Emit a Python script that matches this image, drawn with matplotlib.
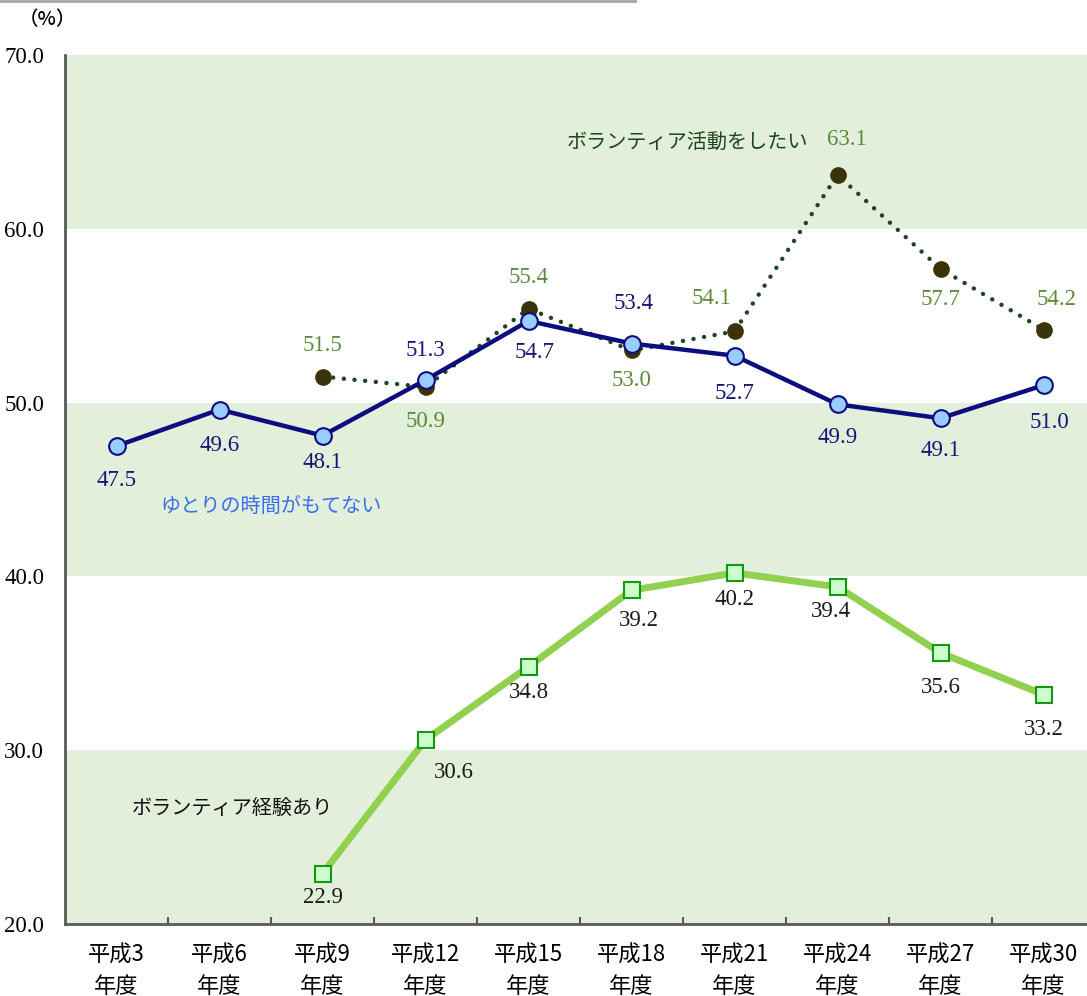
import matplotlib
matplotlib.use("Agg")
import matplotlib.pyplot as plt
from matplotlib.lines import Line2D

plt.rcParams['font.family'] = ['Noto Sans CJK JP', 'DejaVu Sans']

# survey years (Heisei)
years = ['平成3\n年度', '平成6\n年度', '平成9\n年度', '平成12\n年度', '平成15\n年度',
         '平成18\n年度', '平成21\n年度', '平成24\n年度', '平成27\n年度', '平成30\n年度']

# ゆとりの時間がもてない
no_time = [47.5, 49.6, 48.1, 51.3, 54.7, 53.4, 52.7, 49.9, 49.1, 51.0]
# ボランティア活動をしたい (from 平成9)
want_x = [2, 3, 4, 5, 6, 7, 8, 9]
want = [51.5, 50.9, 55.4, 53.0, 54.1, 63.1, 57.7, 54.2]
# ボランティア経験あり (from 平成9)
exp_x = [2, 3, 4, 5, 6, 7, 8, 9]
experience = [22.9, 30.6, 34.8, 39.2, 40.2, 39.4, 35.6, 33.2]

W, H = 1087, 996
fig = plt.figure(figsize=(W / 100, H / 100), dpi=100)
ax = fig.add_axes([65 / W, (H - 924) / H, 1030 / W, (924 - 55) / H])

ax.set_xlim(-0.5, 9.5)
ax.set_ylim(20, 70)

band = '#e2efda'
for lo in (20, 40, 60):
    ax.axhspan(lo, lo + 10, color=band, lw=0, zorder=0)

for s in ('top', 'right'):
    ax.spines[s].set_visible(False)
for s in ('left', 'bottom'):
    ax.spines[s].set_color('#595959')
    ax.spines[s].set_linewidth(2)

ax.set_yticks([20, 30, 40, 50, 60, 70])
ax.set_yticklabels(['%.1f' % v for v in [20, 30, 40, 50, 60, 70]],
                   family='Liberation Serif', fontsize=16.5)
ax.tick_params(axis='y', length=0, pad=15)

ax.set_xticks(range(10))
ax.set_xticklabels(years, fontsize=16, linespacing=1.45)
ax.set_xticks([i + 0.5 for i in range(9)], minor=True)
ax.tick_params(axis='x', which='major', length=0, pad=14)
ax.tick_params(axis='x', which='minor', direction='in', length=5, width=1.5, color='#595959')

# lines
ax.plot(want_x, want, ls=(0, (0.01, 2.4)), lw=3.2, color='#1e4620', dash_capstyle='round',
        marker='o', ms=11, mfc='#3b3308', mec='#3b3308', zorder=3)
ax.plot(range(10), no_time, color='#0d0d80', lw=3.2, marker='o', ms=12,
        mfc='#99ccff', mec='#0d0d80', mew=1.5, zorder=4)
ax.plot(exp_x, experience, color='#92d050', lw=5, marker='s', ms=12,
        mfc='#ccffcc', mec='#119911', mew=1.5, zorder=3)

num = dict(family='Liberation Serif', fontsize=16.5, ha='center', va='center',
           textcoords='offset pixels')

off_no_time = [(0, -34), (0, -36), (0, -27), (0, 30), (6, -32), (2, 40),
               (0, -38), (0, -33), (0, -32), (6, -37)]
for i, (v, o) in enumerate(zip(no_time, off_no_time)):
    ax.annotate('%.1f' % v, (i, v), xytext=o, color='#15157a', **num)

off_want = [(0, 31), (0, -35), (0, 31), (0, -30), (-23, 33), (9, 35), (0, -31), (13, 30)]
for x, v, o in zip(want_x, want, off_want):
    ax.annotate('%.1f' % v, (x, v), xytext=o, color='#5e8a3c', **num)

off_exp = [(0, -24), (28, -33), (0, -26), (7, -30), (0, -27), (-7, -25), (0, -35), (0, -35)]
for x, v, o in zip(exp_x, experience, off_exp):
    ax.annotate('%.1f' % v, (x, v), xytext=o, color='#1a1a1a', **num)

# series names
ax.text(5.54, 64.94, 'ボランティア活動をしたい', fontsize=14.5, color='#1e4620',
        ha='center', va='center')
ax.text(1.5, 44.05, 'ゆとりの時間がもてない', fontsize=14.5, color='#3a6ff0',
        ha='center', va='center')
ax.text(1.13, 26.67, 'ボランティア経験あり', fontsize=14.5, color='#111111',
        ha='center', va='center')

fig.text(47 / W, 1 - 20 / H, '（%）', fontsize=14, ha='center', va='center',
         fontweight='medium')
fig.add_artist(Line2D([0, 635 / W], [1 - 1 / H, 1 - 1 / H], color='#a6a6a6', lw=2,
                      transform=fig.transFigure))

fig.savefig('out.png', dpi=100)
